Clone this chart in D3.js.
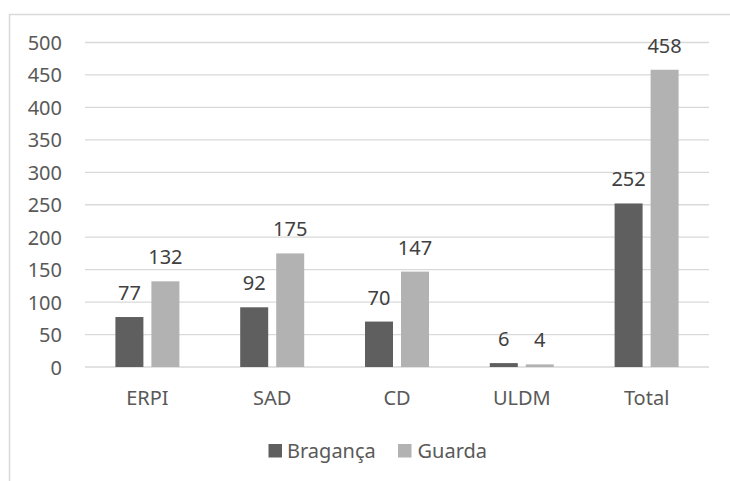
<!DOCTYPE html>
<html><head><meta charset="utf-8">
<script src="https://cdn.jsdelivr.net/npm/d3@7"></script>
<style>body{margin:0;background:#fff}svg{display:block}text{font-family:"Noto Sans","Open Sans",sans-serif}</style>
</head><body><svg id="c" width="730" height="481"></svg>
<script>
const categories = ["ERPI","SAD","CD","ULDM","Total"];
const seriesNames = ["Bragança","Guarda"];
const braganca = [77,92,70,6,252];
const guarda = [132,175,147,4,458];
const yTicks = [0,50,100,150,200,250,300,350,400,450,500];
const colors = ["#5f5f5f","#b2b2b2"];
const fs = 20;

const svg = d3.select("#c");
svg.append("rect").attr("x",9.5).attr("y",14.5).attr("width",740).attr("height",500)
  .attr("fill","none").attr("stroke","#d9d9d9").attr("stroke-width",1.5);

const x0 = d3.scaleBand().domain(categories).range([85,709]).paddingInner(0).paddingOuter(0);
const y = d3.scaleLinear().domain([0,500]).range([367,42.5]);
const barW = 28, gap = 8;

const g = svg.append("g");
g.selectAll(".grid").data(yTicks).join("line")
  .attr("x1",85).attr("x2",709).attr("y1",d=>y(d)).attr("y2",d=>y(d))
  .attr("stroke","#d9d9d9").attr("stroke-width",1.3);

const yAxis = d3.axisLeft(y).tickValues(yTicks).tickSize(0).tickPadding(0);
const ya = svg.append("g").attr("transform","translate(62,0)").call(yAxis);
ya.select(".domain").remove();
ya.selectAll("text").attr("font-size",fs).attr("fill","#595959").attr("dy","0.35em");

const xAxis = d3.axisBottom(x0).tickSize(0).tickPadding(0);
const xa = svg.append("g").attr("transform","translate(0,405)").call(xAxis);
xa.select(".domain").remove();
xa.selectAll("text").attr("font-size",fs).attr("fill","#595959").attr("dy",0);

const series = [braganca, guarda];
series.forEach((vals,si)=>{
  const bx = c => x0(c) + x0.bandwidth()/2 - (barW + gap/2) + si*(barW+gap);
  svg.append("g").selectAll("rect").data(categories).join("rect")
    .attr("x",c=>bx(c)).attr("width",barW)
    .attr("y",(c,i)=>y(vals[i])).attr("height",(c,i)=>y(0)-y(vals[i]))
    .attr("fill",colors[si]);
  svg.append("g").selectAll("text").data(categories).join("text")
    .attr("x",c=>bx(c)+barW/2).attr("y",(c,i)=>y(vals[i])-17)
    .attr("text-anchor","middle").attr("font-size",fs).attr("fill","#404040")
    .text((c,i)=>vals[i]);
});

// legend
const leg = svg.append("g");
const legItems = [{x:268.5,tx:287},{x:398,tx:417.5}];
seriesNames.forEach((n,i)=>{
  leg.append("rect").attr("x",legItems[i].x).attr("y",444).attr("width",13.5).attr("height",13.5).attr("fill",colors[i]);
  leg.append("text").attr("x",legItems[i].tx).attr("y",458).attr("font-size",fs).attr("fill","#595959").text(n);
});
</script></body></html>
